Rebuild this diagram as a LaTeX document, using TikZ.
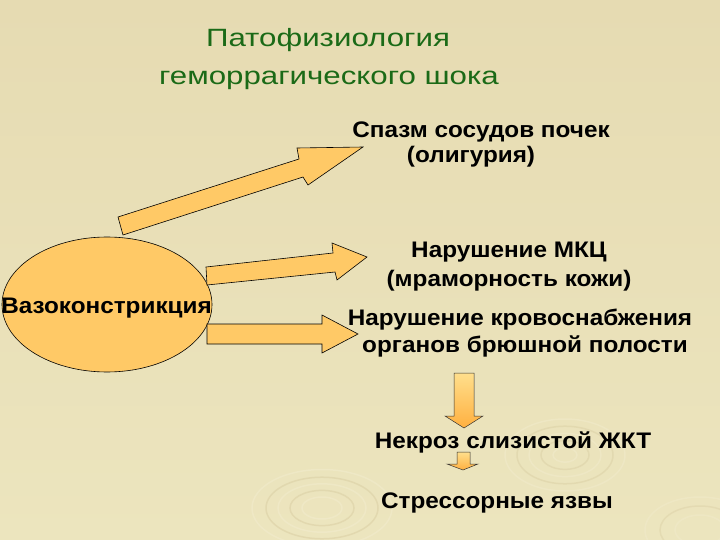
\documentclass[tikz,border=0pt]{standalone}
\usepackage{fontspec}
\setmainfont{Liberation Sans}
\newfontfamily\titlefont[FakeStretch=1.25]{Liberation Sans}
\newfontfamily\labfont[FakeStretch=1.08]{Liberation Sans}
\definecolor{bgc}{HTML}{E6DBB2}
\definecolor{bgl}{HTML}{ECE5BE}
\definecolor{swl}{HTML}{F3EDD0}
\definecolor{swd}{HTML}{D6CA9E}
\definecolor{arrc}{HTML}{FFC966}
\definecolor{ttlc}{HTML}{1B6A17}
\definecolor{dtop}{HTML}{FFDF8C}
\definecolor{dbot}{HTML}{FFB040}
\begin{document}
\begin{tikzpicture}[x=1pt,y=-1pt,
  lab/.style={font=\labfont\bfseries\fontsize{22.5}{26}\selectfont, anchor=base, inner sep=0pt, text=black},
  ttl/.style={font=\titlefont\fontsize{25}{28}\selectfont, anchor=base, inner sep=0pt, text=ttlc},
  blockarrow/.style={fill=arrc, draw=black, line width=0.6pt, line join=miter},
  downarrow/.style={top color=dtop, bottom color=dbot, draw=black!80, line width=0.5pt},
  swirl/.style={line width=1.5pt}]
\useasboundingbox (0,0) rectangle (720,540);
\fill[top color=bgc, bottom color=bgl] (0,0) rectangle (720,540);
% background ripples
\foreach \r/\c in {70/swl,56/swd,44/swl,32/swd,20/swl}{
  \draw[swirl,\c,opacity=0.45] (322,508) ellipse ({\r} and {0.55*\r});}
\foreach \r/\c in {60/swl,48/swd,36/swl,24/swd,12/swl}{
  \draw[swirl,\c,opacity=0.4] (565,455) ellipse ({\r} and {0.6*\r});}
\foreach \r/\c in {55/swl,40/swd,25/swl}{
  \draw[swirl,\c,opacity=0.35] (700,530) ellipse ({\r} and {0.6*\r});}
% title
\node[ttl] (t1) at (328,47) {Патофизиология};
\node[ttl] (t2) at (329,85) {геморрагического шока};
% central ellipse
\fill[arrc, draw=black, line width=0.6pt] (107,304.5) ellipse (105 and 67.5);
\node[lab] (vaso) at (106.5,313) {Вазоконстрикция};
% block arrows
\draw[blockarrow] (118,217) -- (299,159) -- (297,148) -- (363,147) -- (308,185) -- (303,177) -- (123,235) -- cycle;
\draw[blockarrow] (206,267) -- (333,253) -- (332,243) -- (367,257) -- (337,280) -- (335,272) -- (207,285) -- cycle;
\draw[blockarrow] (207,324) -- (322,324) -- (322,315) -- (358,334) -- (322,353) -- (322,344) -- (207,344) -- cycle;
% labels
\node[lab] (s1) at (481,138) {Спазм сосудов почек};
\node[lab] (s2) at (471,163) {(олигурия)};
\node[lab] (m1) at (509,258) {Нарушение МКЦ};
\node[lab] (m2) at (509,286) {(мраморность кожи)};
\node[lab] (k1) at (520,325) {Нарушение кровоснабжения};
\node[lab] (k2) at (525,352) {органов брюшной полости};
\node[lab] (n1) at (513,448) {Некроз слизистой ЖКТ};
\node[lab] (z1) at (497,508) {Стрессорные язвы};
% down arrows
\draw[downarrow] (454,373) -- (474,373) -- (474,416) -- (483,416) -- (464,428) -- (445,416) -- (454,416) -- cycle;
\draw[downarrow] (457,452) -- (470,452) -- (470,464) -- (478,464) -- (463,470) -- (447,464) -- (457,464) -- cycle;
\end{tikzpicture}
\end{document}
